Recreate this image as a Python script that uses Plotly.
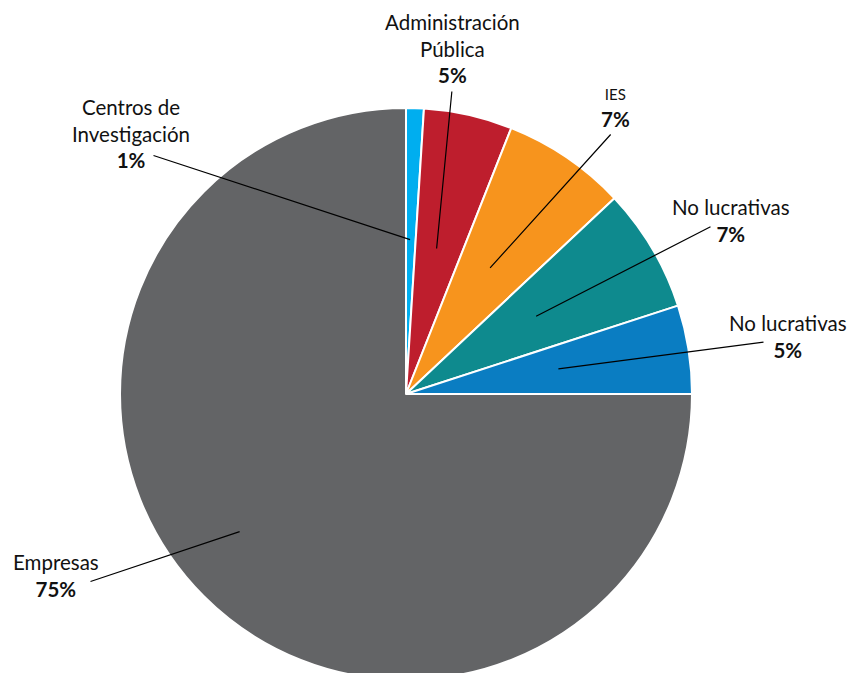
import math
import plotly.graph_objects as go

labels = ["Centros de Investigación", "Administración Pública", "IES",
          "No lucrativas", "No lucrativas ", "Empresas"]
values = [1, 5, 7, 7, 5, 75]
colors = ["#00aeef", "#be1e2d", "#f7941d", "#0e8a8e", "#0a7dc2", "#636466"]
label_texts = ["Centros de<br>Investigación", "Administración<br>Pública", "IES",
               "No lucrativas", "No lucrativas", "Empresas"]

W, H = 849, 680
# pie placement (pixels)
top = 108
R = (H - top) / 2.0
cx = 406.0
cy = top + R
x0, x1 = cx - R, cx + R

fig = go.Figure(go.Pie(
    labels=labels, values=values, sort=False, direction="clockwise",
    rotation=0, textinfo="none", hoverinfo="label+percent",
    marker=dict(colors=colors, line=dict(color="white", width=2)),
    domain=dict(x=[x0 / W, x1 / W], y=[0, 1 - top / H]),
    showlegend=False,
))

# label positions (pixel centres of text blocks) and leader tails
label_pos = [(131, 134), (452, 49), (615, 108), (731, 221), (788, 336), (56, 575)]
tails = [(152, 155), (452, 90), (612, 133), (712, 226), (765, 342), (89, 582)]
rfrac = [0.54, 0.52, 0.53, 0.53, 0.54, 0.755]
afrac = [0.42, 0.46, 0.48, 0.49, 0.48, 0.52]
small = [False, False, True, False, False, False]

total = sum(values)
cum = 0.0
annotations = []
for i, v in enumerate(values):
    pct = v / total
    ang = (cum + pct * afrac[i]) * 2 * math.pi
    cum += pct
    hx = cx + rfrac[i] * R * math.sin(ang)
    hy = cy - rfrac[i] * R * math.cos(ang)
    tx, ty = tails[i]
    annotations.append(dict(
        x=hx / W, y=1 - hy / H, xref="paper", yref="paper",
        ax=tx - hx, ay=ty - hy, text="", showarrow=True,
        arrowhead=0, arrowwidth=1.2, arrowcolor="#000000"))
    lx, ly = label_pos[i]
    fs = 15 if small[i] else 20.5
    txt = (f"<span style='font-size:{fs}px'>{label_texts[i]}</span>"
           f"<br><b>{round(pct * 100)}%</b>")
    annotations.append(dict(
        x=lx / W, y=1 - ly / H, xref="paper", yref="paper",
        text=txt, showarrow=False, xanchor="center", yanchor="middle",
        font=dict(family="Lato", size=20.5, color="#111111")))

fig.update_layout(
    width=W, height=H,
    margin=dict(l=0, r=0, t=0, b=0),
    paper_bgcolor="white", plot_bgcolor="white",
    annotations=annotations,
)

fig.write_html(
    "out.html",
    config={"displayModeBar": False},
    post_script="document.body.style.margin='0';"
                "document.documentElement.style.overflow='hidden';"
                "document.body.style.overflow='hidden';",
)
